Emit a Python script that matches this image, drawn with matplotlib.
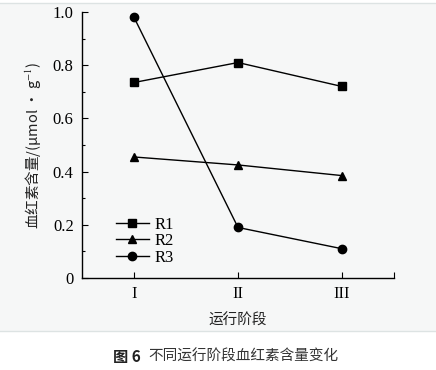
import matplotlib.pyplot as plt
from matplotlib.patches import Rectangle

stages = ['I', 'II', 'III']
x_pos = [1, 2, 3]
r1 = [0.735, 0.81, 0.72]
r2 = [0.455, 0.425, 0.385]
r3 = [0.98, 0.19, 0.11]
y_ticks = [0, 0.2, 0.4, 0.6, 0.8, 1.0]
y_labels = ['0', '0.2', '0.4', '0.6', '0.8', '1.0']

cjk = ['Noto Sans CJK SC', 'DejaVu Sans']
serif = ['Liberation Serif', 'DejaVu Serif']
plt.rcParams['mathtext.fontset'] = 'stix'

fig = plt.figure(figsize=(4.36, 3.70), dpi=100)
fig.patch.set_facecolor('white')

# grey panel behind the chart, white strip for the caption
fig.add_artist(Rectangle((0, 1 - 331 / 370), 1, (331 - 3) / 370,
                         transform=fig.transFigure, facecolor='#f6f7f7',
                         edgecolor='none', zorder=0))
fig.add_artist(plt.Line2D([0, 1], [1 - 3 / 370] * 2, transform=fig.transFigure,
                          color='#dde3e3', lw=1))
fig.add_artist(plt.Line2D([0, 1], [1 - 331 / 370] * 2, transform=fig.transFigure,
                          color='#dde3e3', lw=1))

ax = fig.add_axes([82 / 436, 1 - 278 / 370, (394 - 82) / 436, (278 - 12) / 370])
ax.set_facecolor('none')

kw = dict(color='black', lw=1.0, ms=6)
ax.plot(x_pos, r1, marker='s', label='R1', ms=5.5, color='black', lw=1.0)
ax.plot(x_pos, r2, marker='^', label='R2', **kw)
ax.plot(x_pos, r3, marker='o', label='R3', **kw)

ax.set_xlim(0.5, 3.5)
ax.set_ylim(0, 1.0)
ax.set_xticks(x_pos + [3.5])
ax.set_xticklabels(stages + [''])
ax.set_yticks(y_ticks)
ax.set_yticklabels(y_labels)
ax.set_yticks([0.1, 0.3, 0.5, 0.7, 0.9], minor=True)
ax.tick_params(direction='in', length=4, width=0.8, labelsize=12, pad=6)
ax.tick_params(which='minor', direction='in', length=2.5, width=0.8)
for lab in ax.get_xticklabels() + ax.get_yticklabels():
    lab.set_family(serif)

for s in ['top', 'right']:
    ax.spines[s].set_visible(False)
for s in ['left', 'bottom']:
    ax.spines[s].set_linewidth(1.0)

ax.set_xlabel('运行阶段', family=cjk, fontsize=10.5, labelpad=8, color='#222222')
ax.set_ylabel('血红素含量/(μmol · g$^{-1}$)', family=cjk, fontsize=10.5,
              labelpad=6, color='#222222')

ax.legend(loc='lower left', bbox_to_anchor=(0.06, -0.01), frameon=False,
          handlelength=2.0, handletextpad=0.3, labelspacing=0.02,
          prop={'family': serif, 'size': 12})

fig.text(113 / 436, 1 - 357 / 370, '图 6', family=cjk, fontsize=11,
         fontweight='bold', color='#222222', va='center')
fig.text(148 / 436, 1 - 357 / 370, '不同运行阶段血红素含量变化', family=cjk,
         fontsize=10.5, color='#333333', va='center')

fig.savefig('out.png', dpi=100)
